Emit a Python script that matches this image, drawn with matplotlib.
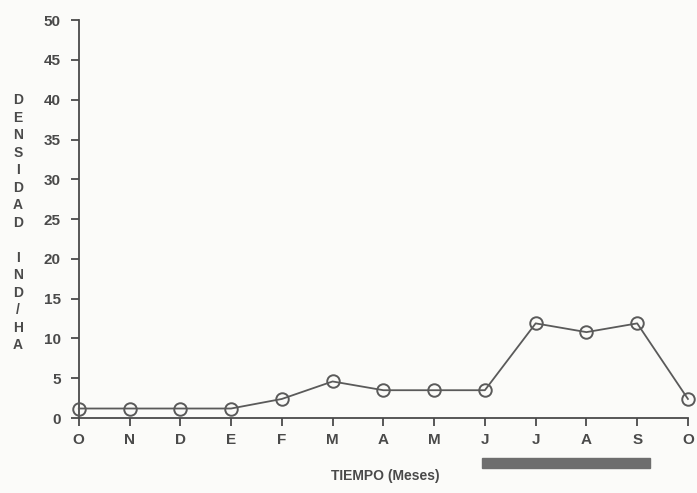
import matplotlib
matplotlib.use('Agg')
import matplotlib.pyplot as plt
from matplotlib.patches import Rectangle
import matplotlib.transforms as mtransforms

plt.rcParams['font.family'] = ['Liberation Sans', 'DejaVu Sans']
plt.rcParams['font.weight'] = 'bold'

# months from October to October
meses = ['O', 'N', 'D', 'E', 'F', 'M', 'A', 'M', 'J', 'J', 'A', 'S', 'O']
densidad = [1.2, 1.2, 1.2, 1.2, 2.4, 4.6, 3.5, 3.5, 3.5, 11.9, 10.8, 11.9, 2.4]
yticks = [0, 5, 10, 15, 20, 25, 30, 35, 40, 45, 50]
periodo_inicio, periodo_fin = 7.95, 11.25   # shaded bar under the axis (J .. S)

ink = '#4a4a4a'

fig = plt.figure(figsize=(6.97, 4.93), dpi=100, facecolor='#fbfbf9')
ax = fig.add_axes([0.113, 0.152, 0.874, 0.807])
ax.set_facecolor('#fbfbf9')

x = list(range(len(meses)))
ax.plot(x, densidad, color='#5a5a5a', lw=1.3, marker='o', markersize=9,
        markerfacecolor='none', markeredgecolor='#5a5a5a', markeredgewidth=1.4,
        clip_on=False, zorder=3)

ax.set_xlim(0, 12)
ax.set_ylim(0, 50)
ax.set_xticks(x)
ax.set_xticklabels(meses)
ax.set_yticks(yticks)

for s in ['top', 'right']:
    ax.spines[s].set_visible(False)
for s in ['left', 'bottom']:
    ax.spines[s].set_color(ink)
    ax.spines[s].set_linewidth(1.3)

ax.tick_params(axis='both', colors=ink, labelcolor=ink, labelsize=11,
               length=6, width=1.3, direction='out')
ax.tick_params(axis='x', pad=5)
ax.tick_params(axis='y', pad=7)
for lab in ax.get_xticklabels() + ax.get_yticklabels():
    lab.set_fontweight('heavy')

# shaded period bar below the axis
trans = mtransforms.blended_transform_factory(ax.transData, ax.transAxes)
ax.add_patch(Rectangle((periodo_inicio, -0.125), periodo_fin - periodo_inicio, 0.025,
                       transform=trans, color='#6e6e6e', clip_on=False))

fig.text(0.553, 0.035, 'TIEMPO (Meses)', ha='center', va='center',
         fontsize=10, fontweight='heavy', color=ink)

ylab = '\n'.join(list('DENSIDAD')) + '\n\n' + '\n'.join(list('IND/HA'))
fig.text(0.026, 0.548, ylab, ha='center', va='center', fontsize=10,
         fontweight='heavy', color=ink, linespacing=1.32)

plt.savefig('out.png', dpi=100, facecolor=fig.get_facecolor())
